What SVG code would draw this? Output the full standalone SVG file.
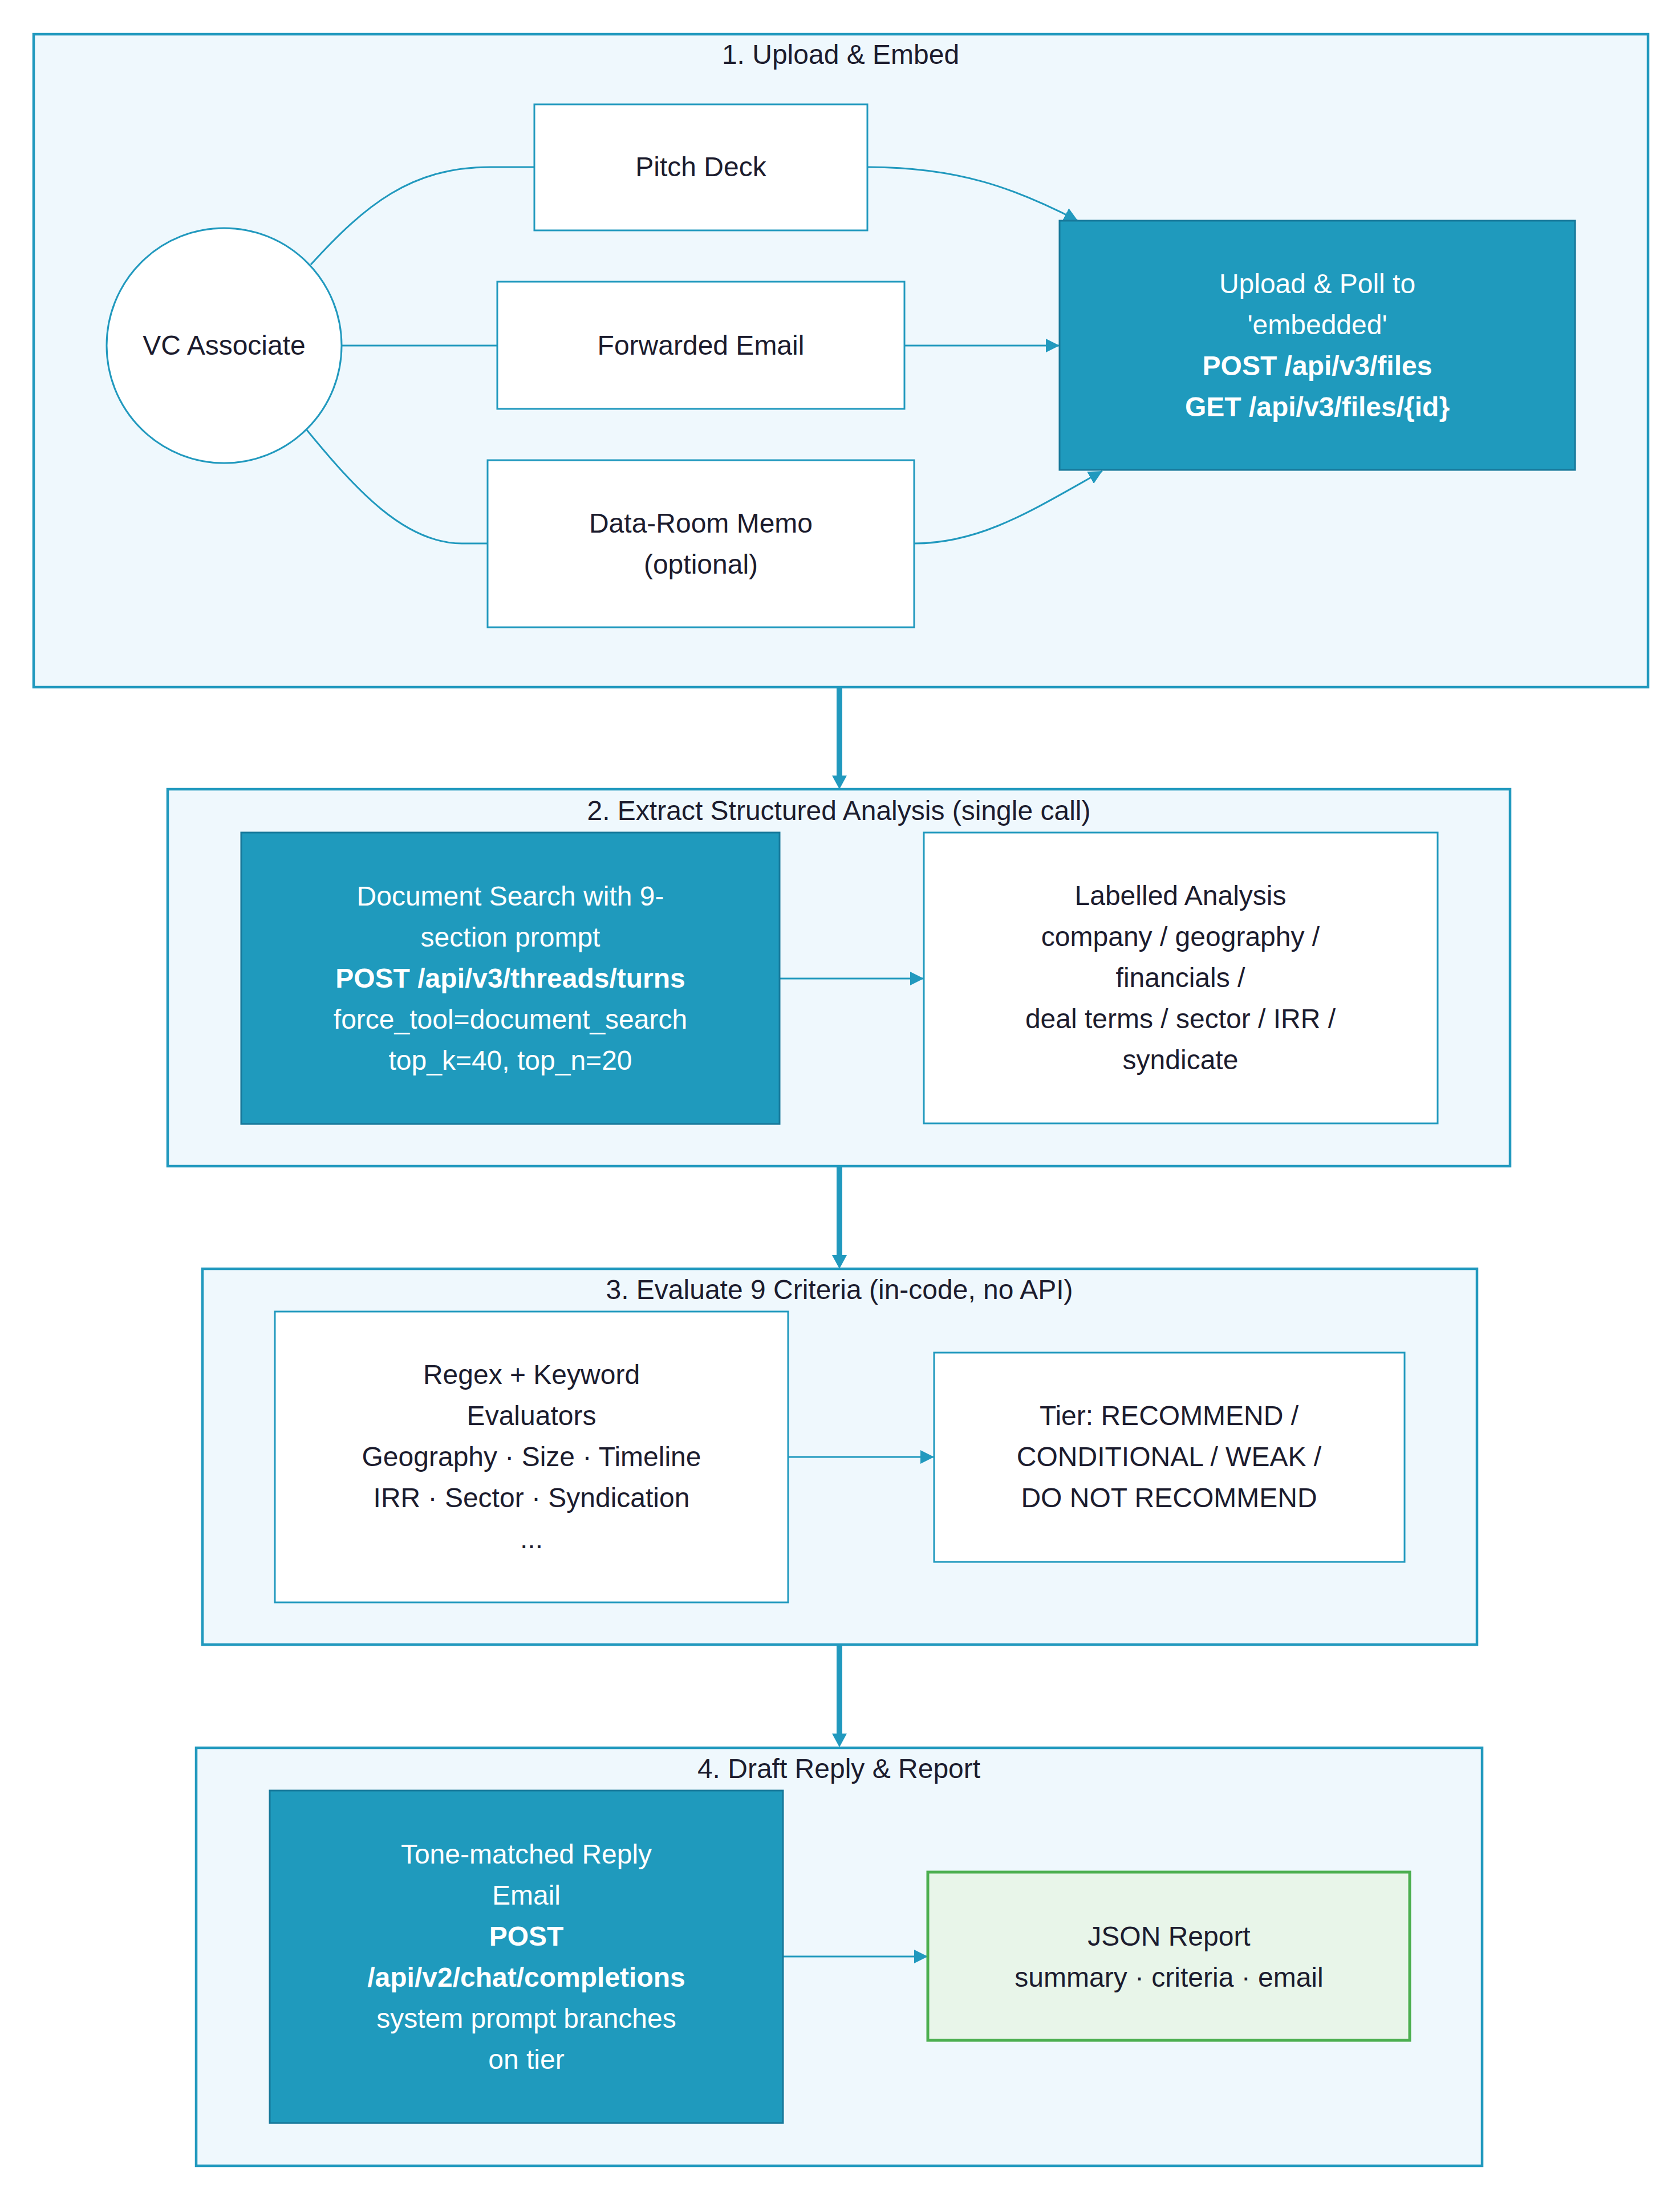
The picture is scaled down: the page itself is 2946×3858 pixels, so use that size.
<svg xmlns="http://www.w3.org/2000/svg" width="2946" height="3858" viewBox="0 0 2946 3858">
<style>
text{font-family:"Liberation Sans",Arial,sans-serif;font-size:48px;text-anchor:middle}
.t{fill:#1c1c2e}
.w{fill:#ffffff}
.b{font-weight:bold}
.cluster{fill:#eff8fd;stroke:#2199be;stroke-width:4.5}
.node{fill:#ffffff;stroke:#2199be;stroke-width:3}
.fill{fill:#1f9abd;stroke:#17789a;stroke-width:3}
.green{fill:#e8f5e9;stroke:#4caf50;stroke-width:5}
.edge{fill:none;stroke:#2199be;stroke-width:3}
.thick{fill:none;stroke:#2199be;stroke-width:10}
</style>
<defs>
<marker id="ah" markerUnits="userSpaceOnUse" markerWidth="24" markerHeight="24" refX="24" refY="12" orient="auto">
<path d="M0,0 L24,12 L0,24 z" fill="#2199be"/>
</marker>
<marker id="ahT" markerUnits="userSpaceOnUse" markerWidth="24" markerHeight="26" refX="0" refY="13" orient="auto">
<path d="M0,0 L24,13 L0,26 z" fill="#2199be"/>
</marker>
</defs>
<rect width="2946" height="3858" fill="#ffffff"/>

<g id="cluster1">
<rect class="cluster" x="59" y="60" width="2831" height="1145"/>
<text class="t" x="1474" y="112">1. Upload &amp; Embed</text>
</g>
<g id="cluster2">
<rect class="cluster" x="294" y="1384" width="2354" height="661"/>
<text class="t" x="1471" y="1438">2. Extract Structured Analysis (single call)</text>
</g>
<g id="cluster3">
<rect class="cluster" x="355" y="2225" width="2235" height="659"/>
<text class="t" x="1472" y="2278">3. Evaluate 9 Criteria (in-code, no API)</text>
</g>
<g id="cluster4">
<rect class="cluster" x="344" y="3065" width="2255" height="733"/>
<text class="t" x="1471" y="3118">4. Draft Reply &amp; Report</text>
</g>

<g id="connectors">
<path class="edge" d="M545,464 C640,360 720,293 860,293 L937,293"/>
<path class="edge" d="M599,606 L872,606"/>
<path class="edge" d="M538,754 C625,860 710,953 810,953 L855,953"/>
<path class="edge" d="M1521,293 C1680,293 1780,330 1890,387" marker-end="url(#ah)"/>
<path class="edge" d="M1586,606 L1858,606" marker-end="url(#ah)"/>
<path class="edge" d="M1603,953 C1720,953 1810,895 1933,826" marker-end="url(#ah)"/>
<path class="edge" d="M1367,1716 L1620,1716" marker-end="url(#ah)"/>
<path class="edge" d="M1382,2555 L1638,2555" marker-end="url(#ah)"/>
<path class="edge" d="M1373,3431 L1627,3431" marker-end="url(#ah)"/>
<path class="thick" d="M1472,1207 L1472,1360" marker-end="url(#ahT)"/>
<path class="thick" d="M1472,2047 L1472,2201" marker-end="url(#ahT)"/>
<path class="thick" d="M1472,2886 L1472,3040" marker-end="url(#ahT)"/>
</g>

<g id="vc">
<circle class="node" cx="393" cy="606" r="206"/>
<text class="t" x="393" y="622">VC Associate</text>
</g>
<g id="pitch">
<rect class="node" x="937" y="183" width="584" height="221"/>
<text class="t" x="1229" y="309">Pitch Deck</text>
</g>
<g id="email">
<rect class="node" x="872" y="494" width="714" height="223"/>
<text class="t" x="1229" y="622">Forwarded Email</text>
</g>
<g id="memo">
<rect class="node" x="855" y="807" width="748" height="293"/>
<text class="t" x="1229" y="934">Data-Room Memo</text>
<text class="t" x="1229" y="1006">(optional)</text>
</g>
<g id="upload">
<rect class="fill" x="1858" y="387" width="904" height="437"/>
<text class="w" x="2310" y="514">Upload &amp; Poll to</text>
<text class="w" x="2310" y="586">'embedded'</text>
<text class="w b" x="2310" y="658">POST /api/v3/files</text>
<text class="w b" x="2310" y="730">GET /api/v3/files/{id}</text>
</g>
<g id="docsearch">
<rect class="fill" x="423" y="1460" width="944" height="511"/>
<text class="w" x="895" y="1588">Document Search with 9-</text>
<text class="w" x="895" y="1660">section prompt</text>
<text class="w b" x="895" y="1732">POST /api/v3/threads/turns</text>
<text class="w" x="895" y="1804">force_tool=document_search</text>
<text class="w" x="895" y="1876">top_k=40, top_n=20</text>
</g>
<g id="labelled">
<rect class="node" x="1620" y="1460" width="901" height="510"/>
<text class="t" x="2070" y="1587">Labelled Analysis</text>
<text class="t" x="2070" y="1659">company / geography /</text>
<text class="t" x="2070" y="1731">financials /</text>
<text class="t" x="2070" y="1803">deal terms / sector / IRR /</text>
<text class="t" x="2070" y="1875">syndicate</text>
</g>
<g id="regex">
<rect class="node" x="482" y="2300" width="900" height="510"/>
<text class="t" x="932" y="2427">Regex + Keyword</text>
<text class="t" x="932" y="2499">Evaluators</text>
<text class="t" x="932" y="2571">Geography · Size · Timeline</text>
<text class="t" x="932" y="2643">IRR · Sector · Syndication</text>
<text class="t" x="932" y="2715">...</text>
</g>
<g id="tier">
<rect class="node" x="1638" y="2372" width="825" height="367"/>
<text class="t" x="2050" y="2499">Tier: RECOMMEND /</text>
<text class="t" x="2050" y="2571">CONDITIONAL / WEAK /</text>
<text class="t" x="2050" y="2643">DO NOT RECOMMEND</text>
</g>
<g id="reply">
<rect class="fill" x="473" y="3140" width="900" height="583"/>
<text class="w" x="923" y="3268">Tone-matched Reply</text>
<text class="w" x="923" y="3340">Email</text>
<text class="w b" x="923" y="3412">POST</text>
<text class="w b" x="923" y="3484">/api/v2/chat/completions</text>
<text class="w" x="923" y="3556">system prompt branches</text>
<text class="w" x="923" y="3628">on tier</text>
</g>
<g id="json">
<rect class="green" x="1627" y="3283" width="845" height="295"/>
<text class="t" x="2050" y="3412">JSON Report</text>
<text class="t" x="2050" y="3484">summary · criteria · email</text>
</g>
</svg>
